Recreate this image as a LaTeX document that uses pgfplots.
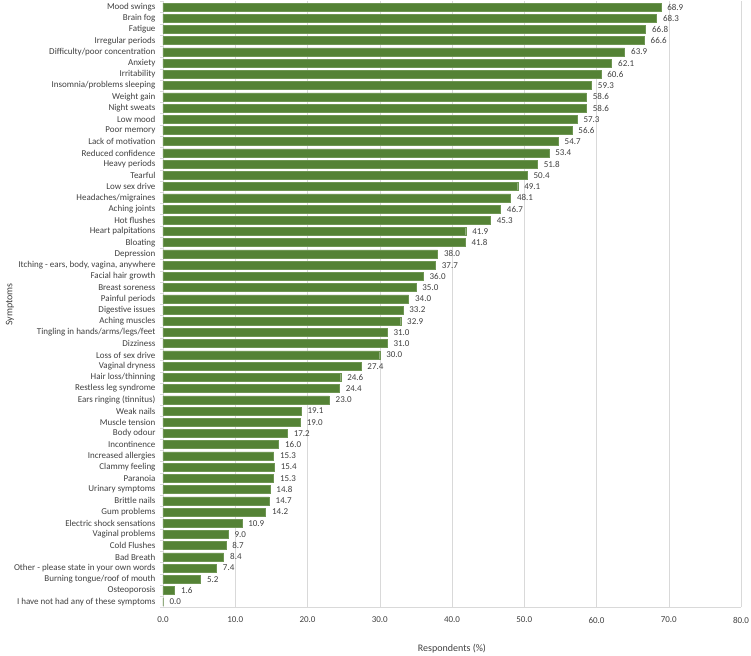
\documentclass[border=0pt]{standalone}
\usepackage{fontspec}
\setmainfont{Carlito}
\usepackage{pgfplots}
\pgfplotsset{compat=1.18}
\definecolor{bargreen}{HTML}{548235}
\definecolor{txt}{HTML}{404040}
\definecolor{gridc}{HTML}{D9D9D9}
\begin{document}
\begin{tikzpicture}
\useasboundingbox (-163pt,-48.4pt) rectangle (588pt,607.4pt);
\begin{axis}[
  at={(0,0)}, anchor=south west,
  scale only axis, width=578pt, height=606pt,
  xbar, bar width=8pt,
  xmin=0, xmax=80, xtick distance=10,
  ymin=-0.5, ymax=53.5, y dir=reverse,
  ytick={0,...,53},
  minor ytick={-0.5,0.5,...,53.5},
  major tick length=0pt,
  minor tick length=3pt,
  tick align=outside,
  every minor tick/.style={gridc, thin},
  yticklabels={Mood swings,Brain fog,Fatigue,Irregular periods,Difficulty/poor concentration,Anxiety,Irritability,Insomnia/problems sleeping,Weight gain,Night sweats,Low mood,Poor memory,Lack of motivation,Reduced confidence,Heavy periods,Tearful,Low sex drive,Headaches/migraines,Aching joints,Hot flushes,Heart palpitations,Bloating,Depression,{Itching - ears, body, vagina, anywhere},Facial hair growth,Breast soreness,Painful periods,Digestive issues,Aching muscles,Tingling in hands/arms/legs/feet,Dizziness,Loss of sex drive,Vaginal dryness,Hair loss/thinning,Restless leg syndrome,Ears ringing (tinnitus),Weak nails,Muscle tension,Body odour,Incontinence,Increased allergies,Clammy feeling,Paranoia,Urinary symptoms,Brittle nails,Gum problems,Electric shock sensations,Vaginal problems,Cold Flushes,Bad Breath,Other - please state in your own words,Burning tongue/roof of mouth,Osteoporosis,I have not had any of these symptoms},
  axis x line*=bottom, axis y line*=left,
  axis line style={gridc},
  xmajorgrids, grid style={gridc, thin},
  ticklabel style={font=\fontsize{9}{10}\selectfont, text=txt},
  yticklabel style={xshift=-4pt},
  xticklabel style={yshift=-6pt},
  /pgf/number format/assume math mode=true,
  xticklabel={\pgfmathprintnumber[fixed,fixed zerofill,precision=1]{\tick}},
  xlabel={Respondents (\%)}, ylabel={Symptoms},
  label style={font=\fontsize{10}{12}\selectfont, text=txt},
  xlabel style={yshift=-14pt},
  ylabel style={at={(axis description cs:-0.265,0.5)}, anchor=center},
  nodes near coords,
  point meta=x,
  every node near coord/.append style={font=\fontsize{9}{10}\selectfont, text=txt, anchor=west, xshift=3pt,
    /pgf/number format/.cd, fixed, fixed zerofill, precision=1, assume math mode=true},
]
\addplot[fill=bargreen, draw=bargreen!85!white] coordinates {
(68.9,0) (68.3,1) (66.8,2) (66.6,3) (63.9,4) (62.1,5) (60.6,6) (59.3,7) (58.6,8) (58.6,9)
(57.3,10) (56.6,11) (54.7,12) (53.4,13) (51.8,14) (50.4,15) (49.1,16) (48.1,17) (46.7,18) (45.3,19)
(41.9,20) (41.8,21) (38.0,22) (37.7,23) (36.0,24) (35.0,25) (34.0,26) (33.2,27) (32.9,28) (31.0,29)
(31.0,30) (30.0,31) (27.4,32) (24.6,33) (24.4,34) (23.0,35) (19.1,36) (19.0,37) (17.2,38) (16.0,39)
(15.3,40) (15.4,41) (15.3,42) (14.8,43) (14.7,44) (14.2,45) (10.9,46) (9.0,47) (8.7,48) (8.4,49)
(7.4,50) (5.2,51) (1.6,52) (0.0,53)
};
\end{axis}
\end{tikzpicture}
\end{document}
